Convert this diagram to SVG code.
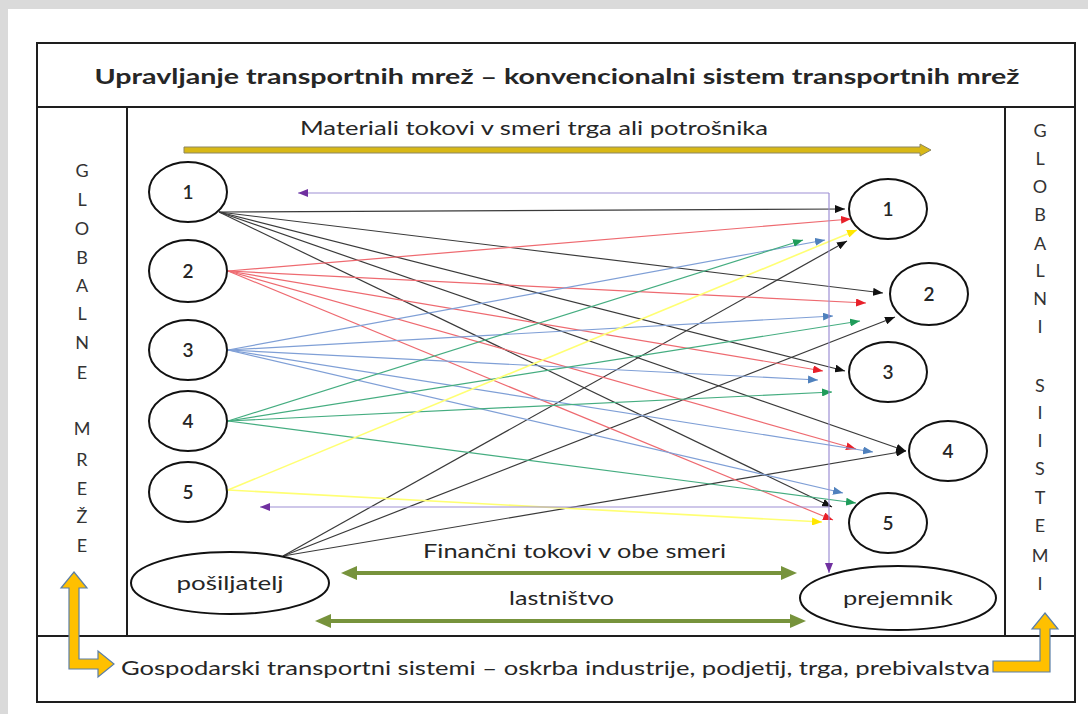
<svg xmlns="http://www.w3.org/2000/svg" width="1088" height="714" viewBox="0 0 1088 714">
<style>
text{font-family:Lato,"Liberation Sans",Arial,sans-serif;fill:#262626}
.box{fill:none;stroke:#1e1e1e;stroke-width:2}
.node{fill:#fff;stroke:#111;stroke-width:2}
.lbl{font-size:19px;text-anchor:middle;font-weight:600}
.col{font-size:18px;text-anchor:middle;fill:#333}
.c{fill:none;stroke-width:1.2}
.k{stroke:#3a3a3a}
.r{stroke:#ee6a70}
.b{stroke:#7f9fd6}
.g{stroke:#45ad80}
.y{stroke:#ffff73;stroke-width:1.6}
.p{stroke:#9d8fd4;stroke-width:1.2;fill:none}
.gr{stroke:#77933c;stroke-width:4;fill:none}
.ya{fill:#ffc000;stroke:#5b7fa8;stroke-width:1.2}
</style>
<defs>
<marker id="mk" markerUnits="userSpaceOnUse" markerWidth="10" markerHeight="8" refX="10" refY="4" orient="auto"><path d="M0,0 L10,4 L0,8 z" fill="#111"/></marker>
<marker id="mr" markerUnits="userSpaceOnUse" markerWidth="10" markerHeight="8" refX="10" refY="4" orient="auto"><path d="M0,0 L10,4 L0,8 z" fill="#e8202a"/></marker>
<marker id="mb" markerUnits="userSpaceOnUse" markerWidth="10" markerHeight="8" refX="10" refY="4" orient="auto"><path d="M0,0 L10,4 L0,8 z" fill="#4f81bd"/></marker>
<marker id="mg" markerUnits="userSpaceOnUse" markerWidth="10" markerHeight="8" refX="10" refY="4" orient="auto"><path d="M0,0 L10,4 L0,8 z" fill="#1f9c5a"/></marker>
<marker id="my" markerUnits="userSpaceOnUse" markerWidth="10" markerHeight="8" refX="10" refY="4" orient="auto"><path d="M0,0 L10,4 L0,8 z" fill="#ffe600"/></marker>
<marker id="mp" markerUnits="userSpaceOnUse" markerWidth="10" markerHeight="8" refX="10" refY="4" orient="auto"><path d="M0,0 L10,4 L0,8 z" fill="#7030a0"/></marker>
<marker id="mgr" markerUnits="userSpaceOnUse" markerWidth="16" markerHeight="14" refX="6" refY="7" orient="auto-start-reverse"><path d="M0,0 L16,7 L0,14 z" fill="#77933c"/></marker>
</defs>
<rect x="0" y="0" width="1088" height="714" fill="#fff"/>
<rect x="0" y="0" width="1088" height="9" fill="#dadada"/>
<rect x="0" y="0" width="8" height="714" fill="#dadada"/>

<g id="frame">
<rect class="box" x="37" y="43" width="1038" height="659"/>
<line class="box" x1="37" y1="107" x2="1075" y2="107"/>
<line class="box" x1="37" y1="636" x2="1075" y2="636"/>
<line class="box" x1="127" y1="107" x2="127" y2="636"/>
<line class="box" x1="1005" y1="107" x2="1005" y2="636"/>
</g>

<g id="title"><text x="557" y="84" font-size="21" font-weight="bold" text-anchor="middle" textLength="925" lengthAdjust="spacingAndGlyphs">Upravljanje transportnih mrež – konvencionalni sistem transportnih mrež</text></g>

<g id="left-column">
<text class="col" x="82" y="177">G</text>
<text class="col" x="82" y="206">L</text>
<text class="col" x="82" y="235">O</text>
<text class="col" x="82" y="264">B</text>
<text class="col" x="82" y="292">A</text>
<text class="col" x="82" y="320">L</text>
<text class="col" x="82" y="349">N</text>
<text class="col" x="82" y="379">E</text>
<text class="col" x="82" y="435">M</text>
<text class="col" x="82" y="466">R</text>
<text class="col" x="82" y="495">E</text>
<text class="col" x="82" y="523">Ž</text>
<text class="col" x="82" y="552">E</text>
</g>

<g id="right-column">
<text class="col" x="1040" y="137">G</text>
<text class="col" x="1040" y="165">L</text>
<text class="col" x="1040" y="193">O</text>
<text class="col" x="1040" y="221">B</text>
<text class="col" x="1040" y="250">A</text>
<text class="col" x="1040" y="277">L</text>
<text class="col" x="1040" y="305">N</text>
<text class="col" x="1040" y="333">I</text>
<text class="col" x="1040" y="392">S</text>
<text class="col" x="1040" y="419">I</text>
<text class="col" x="1040" y="447">I</text>
<text class="col" x="1040" y="475">S</text>
<text class="col" x="1040" y="504">T</text>
<text class="col" x="1040" y="532">E</text>
<text class="col" x="1040" y="562">M</text>
<text class="col" x="1040" y="590">I</text>
</g>

<g id="material-flow">
<text x="300" y="135" font-size="19" textLength="468" lengthAdjust="spacingAndGlyphs">Materiali tokovi v smeri trga ali potrošnika</text>
<path d="M184,147 L920,147 L920,144 L931,150 L920,156 L920,153 L184,153 Z" fill="#d8b816" stroke="#8c8660" stroke-width="1"/>
</g>

<g id="connectors">
<g class="c k">
<line x1="219" y1="212" x2="845" y2="209" marker-end="url(#mk)"/>
<line x1="219" y1="212" x2="883" y2="293" marker-end="url(#mk)"/>
<line x1="219" y1="212" x2="845" y2="371" marker-end="url(#mk)"/>
<line x1="219" y1="212" x2="906" y2="451" marker-end="url(#mk)"/>
<line x1="219" y1="212" x2="832" y2="507" marker-end="url(#mk)"/>
<line x1="283" y1="556" x2="847" y2="241" marker-end="url(#mk)"/>
<line x1="283" y1="556" x2="895" y2="317" marker-end="url(#mk)"/>
<line x1="283" y1="556" x2="906" y2="451" marker-end="url(#mk)"/>
</g>
<g class="c r">
<line x1="228" y1="271" x2="851" y2="219" marker-end="url(#mr)"/>
<line x1="228" y1="271" x2="866" y2="303" marker-end="url(#mr)"/>
<line x1="228" y1="271" x2="823" y2="371" marker-end="url(#mr)"/>
<line x1="228" y1="271" x2="856" y2="449" marker-end="url(#mr)"/>
<line x1="228" y1="271" x2="833" y2="520" marker-end="url(#mr)"/>
</g>
<g class="c b">
<line x1="228" y1="350" x2="825" y2="240" marker-end="url(#mb)"/>
<line x1="228" y1="350" x2="833" y2="316" marker-end="url(#mb)"/>
<line x1="228" y1="350" x2="818" y2="380" marker-end="url(#mb)"/>
<line x1="228" y1="350" x2="873" y2="452" marker-end="url(#mb)"/>
<line x1="228" y1="350" x2="843" y2="493" marker-end="url(#mb)"/>
</g>
<g class="c g">
<line x1="228" y1="421" x2="803" y2="240" marker-end="url(#mg)"/>
<line x1="228" y1="421" x2="860" y2="321" marker-end="url(#mg)"/>
<line x1="228" y1="421" x2="832" y2="392" marker-end="url(#mg)"/>
<line x1="228" y1="421" x2="856" y2="503" marker-end="url(#mg)"/>
</g>
<g class="c y">
<line x1="228" y1="490" x2="857" y2="230" marker-end="url(#my)"/>
<line x1="228" y1="490" x2="822" y2="522" marker-end="url(#my)"/>
</g>
<g id="payment-flow">
<line class="p" x1="829" y1="193" x2="298" y2="193" marker-end="url(#mp)"/>
<line class="p" x1="829" y1="193" x2="829" y2="573" marker-end="url(#mp)"/>
<line class="p" x1="829" y1="507" x2="260" y2="507" marker-end="url(#mp)"/>
</g>
<line class="gr" x1="351" y1="573" x2="787" y2="573" marker-start="url(#mgr)" marker-end="url(#mgr)"/>
<line class="gr" x1="325" y1="621" x2="796" y2="621" marker-start="url(#mgr)" marker-end="url(#mgr)"/>
</g>

<g id="finance-labels">
<text x="423" y="558" font-size="19" textLength="303" lengthAdjust="spacingAndGlyphs">Finančni tokovi v obe smeri</text>
<text x="509" y="605" font-size="19" textLength="105" lengthAdjust="spacingAndGlyphs">lastništvo</text>
</g>

<g id="L1"><ellipse class="node" cx="188" cy="192" rx="39" ry="30"/><text class="lbl" x="188" y="199">1</text></g>
<g id="L2"><ellipse class="node" cx="188" cy="271" rx="39" ry="31"/><text class="lbl" x="188" y="278">2</text></g>
<g id="L3"><ellipse class="node" cx="188" cy="350" rx="39" ry="30"/><text class="lbl" x="188" y="357">3</text></g>
<g id="L4"><ellipse class="node" cx="188" cy="421" rx="39" ry="30"/><text class="lbl" x="188" y="428">4</text></g>
<g id="L5"><ellipse class="node" cx="188" cy="492" rx="39" ry="30"/><text class="lbl" x="188" y="499">5</text></g>
<g id="posiljatelj"><ellipse class="node" cx="230" cy="583" rx="99" ry="31"/><text x="230" y="590" font-size="20" text-anchor="middle" textLength="107" lengthAdjust="spacingAndGlyphs">pošiljatelj</text></g>

<g id="R1"><ellipse class="node" cx="888" cy="209" rx="39" ry="30"/><text class="lbl" x="888" y="216">1</text></g>
<g id="R2"><ellipse class="node" cx="929" cy="294" rx="39" ry="31"/><text class="lbl" x="929" y="301">2</text></g>
<g id="R3"><ellipse class="node" cx="888" cy="372" rx="39" ry="30"/><text class="lbl" x="888" y="379">3</text></g>
<g id="R4"><ellipse class="node" cx="948" cy="451" rx="39" ry="30"/><text class="lbl" x="948" y="458">4</text></g>
<g id="R5"><ellipse class="node" cx="888" cy="523" rx="39" ry="30"/><text class="lbl" x="888" y="530">5</text></g>
<g id="prejemnik"><ellipse class="node" cx="898" cy="598" rx="98" ry="32"/><text x="898" y="605" font-size="20" text-anchor="middle" textLength="110" lengthAdjust="spacingAndGlyphs">prejemnik</text></g>

<g id="bottom">
<text x="121" y="675" font-size="19" textLength="869" lengthAdjust="spacingAndGlyphs">Gospodarski transportni sistemi – oskrba industrije, podjetij, trga, prebivalstva</text>
<path class="ya" d="M74,572 L87,588 L79,588 L79,659 L98,659 L98,651 L114,664 L98,677 L98,669 L69,669 L69,588 L61,588 Z"/>
<path class="ya" d="M1045,613 L1058,629 L1050,629 L1050,672 L993,672 L993,661 L1040,661 L1040,629 L1032,629 Z"/>
</g>
</svg>
